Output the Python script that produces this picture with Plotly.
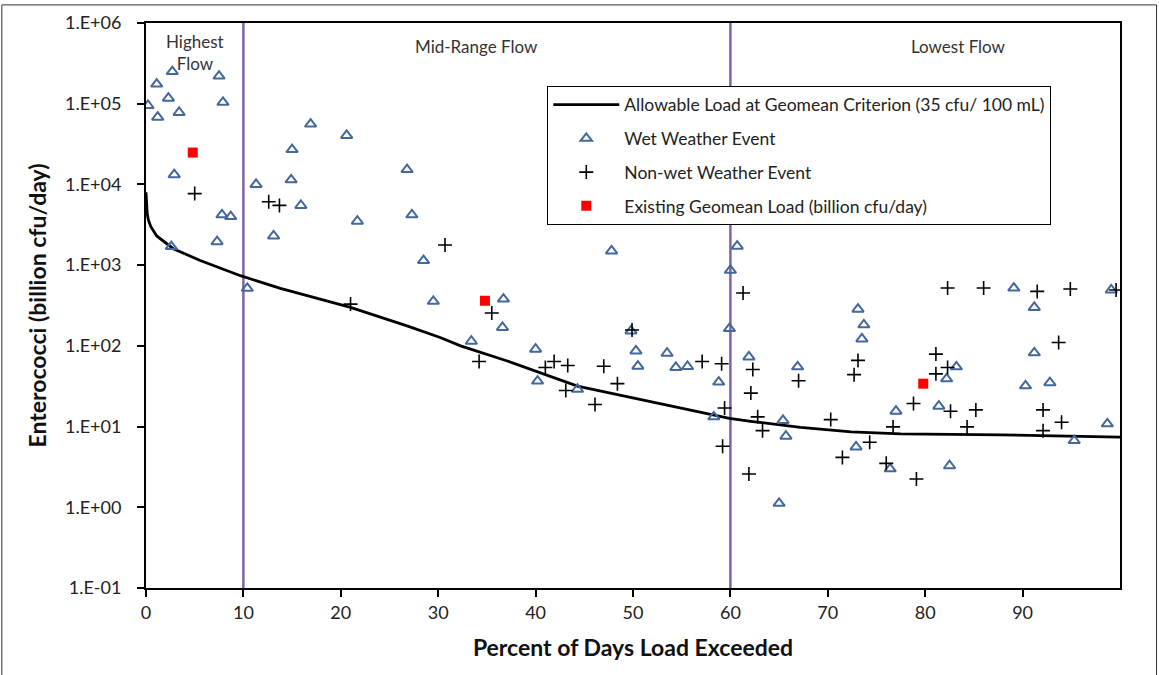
import plotly.graph_objects as go

# ---------------- data ----------------
curve_x = [0, 0.07, 0.13, 0.25, 0.5, 1.1, 2.8, 5.5, 9.7, 13.8, 21.0, 26.8, 30.2, 32.3, 37.1,
           44.3, 50.1, 55.9, 59.9, 62.1, 67.2, 72.4, 77.5, 87.8, 98.0, 100]
curve_y = [8000, 5500, 4300, 3600, 3000, 2300, 1600, 1150, 740, 515, 300, 177, 127, 100, 65,
           31.7, 22.5, 16.1, 12.6, 11.6, 9.8, 8.6, 8.1, 7.9, 7.6, 7.4]

wet_x = [0.2, 1.1, 2.7, 1.2, 2.3, 3.4, 7.5, 7.9, 2.9, 7.8, 8.7, 7.3, 2.6, 10.4, 11.3, 13.1,
         14.9, 15.0, 15.9, 16.9, 20.6, 21.7, 26.8, 27.3, 28.5, 29.5, 33.4, 36.6, 36.7, 40.0,
         40.2, 44.3, 47.8, 49.8, 50.3, 50.5, 53.5, 54.4, 55.6, 58.3, 58.8, 59.9, 60.0, 60.7,
         61.9, 65.0, 65.4, 65.7, 66.9, 72.9, 73.1, 73.5, 73.7, 76.4, 77.0, 81.4, 82.2, 82.5,
         83.2, 89.1, 90.3, 91.2, 91.2, 92.8, 95.3, 98.7, 99.1]
wet_y = [9.5e4, 1.75e5, 2.5e5, 6.8e4, 1.17e5, 7.8e4, 2.2e5, 1.04e5, 1.32e4, 4.2e3, 4.0e3,
         1.95e3, 1.7e3, 516, 1.0e4, 2.3e3, 1.14e4, 2.7e4, 5.5e3, 5.6e4, 4.05e4, 3.5e3, 1.53e4,
         4.2e3, 1.14e3, 356, 114, 169, 380, 91, 36.6, 29, 1.5e3, 153, 86.5, 56, 81, 54, 55.5,
         13.2, 35.6, 164, 863, 1.72e3, 73, 1.12, 11.9, 7.6, 55, 5.6, 285, 122, 182, 3.0, 15.5,
         17.9, 39, 3.27, 55, 520, 32, 299, 82, 35, 6.7, 10.8, 492]

dry_x = [5.0, 12.6, 13.7, 21.0, 30.7, 35.5, 34.2, 41.0, 41.9, 43.3, 43.1, 46.1, 47.0, 48.4,
         49.9, 57.1, 59.1, 59.4, 59.2, 61.3, 62.3, 62.1, 62.8, 63.3, 61.9, 67.0, 70.3, 71.5,
         73.1, 72.7, 74.3, 76.0, 76.7, 78.8, 79.1, 81.1, 81.1, 82.3, 82.3, 82.6, 84.3, 85.2,
         86.0, 91.5, 92.1, 92.1, 93.7, 94.0, 94.9, 99.6]
dry_y = [7.7e3, 6.1e3, 5.5e3, 329, 1.78e3, 255, 64, 54, 64, 57, 28, 18.8, 56, 34, 157, 64,
         60, 17, 5.7, 451, 51, 26, 13.2, 8.9, 2.58, 37, 12.2, 4.15, 66, 44, 6.4, 3.5, 9.9,
         19.3, 2.24, 79, 45, 520, 54, 15.5, 9.9, 16.1, 520, 473, 16.1, 8.9, 110, 11.3, 506, 492]

geo_x = [4.8, 34.8, 79.8]
geo_y = [2.48e4, 362, 34]

zone_bounds = [10, 60]
zone_labels = ["Highest<br>Flow", "Mid-Range Flow", "Lowest Flow"]
zone_label_x = [5, 33.9, 83.4]

y_tickvals = [1e-1, 1e0, 1e1, 1e2, 1e3, 1e4, 1e5, 1e6]
y_ticktext = ["1.E-01", "1.E+00", "1.E+01", "1.E+02", "1.E+03", "1.E+04", "1.E+05", "1.E+06"]
x_tickvals = [0, 10, 20, 30, 40, 50, 60, 70, 80, 90]

FONT = "Lato"

fig = go.Figure()
fig.add_trace(go.Scatter(
    x=curve_x, y=curve_y, mode="lines", line=dict(color="black", width=2.8),
    name="Allowable Load at Geomean Criterion (35 cfu/ 100 mL)", legendgroup="a"))
fig.add_trace(go.Scatter(
    x=wet_x, y=wet_y, mode="markers",
    marker=dict(symbol="triangle-up-open", size=10, color="#44689C", line=dict(width=2, color="#44689C")),
    name="Wet Weather Event", legendgroup="b"))
fig.add_trace(go.Scatter(
    x=dry_x, y=dry_y, mode="markers",
    marker=dict(symbol="cross-thin", size=10, color="black", line=dict(width=1.6, color="black")),
    name="Non-wet Weather Event", legendgroup="c"))
fig.add_trace(go.Scatter(
    x=geo_x, y=geo_y, mode="markers",
    marker=dict(symbol="square", size=10, color="#FF0000", line=dict(width=0)),
    name="Existing Geomean Load (billion cfu/day)", legendgroup="d"))

shapes = []
for b in zone_bounds:
    shapes.append(dict(type="line", xref="x", yref="paper", x0=b, x1=b, y0=0, y1=1,
                       line=dict(color="#8064A2", width=2.5), layer="below"))
# outer frame
shapes.append(dict(type="rect", xref="paper", yref="paper",
                   x0=-0.148, x1=1.0375, y0=-0.2, y1=1.032,
                   line=dict(color="#333333", width=1)))

annotations = []
for lbl, xx in zip(zone_labels, zone_label_x):
    two = "<br>" in lbl
    annotations.append(dict(x=xx, y=0.99 if two else 0.958, xref="x", yref="paper",
                            text=lbl, showarrow=False,
                            yanchor="top" if two else "middle",
                            font=dict(family=FONT, size=17, color="#333333")))

fig.update_layout(
    width=1159, height=675,
    margin=dict(l=146, r=39, t=23, b=87),
    paper_bgcolor="white", plot_bgcolor="white",
    font=dict(family=FONT, color="#222222"),
    showlegend=True,
    legend=dict(x=0.412, y=0.889, xanchor="left", yanchor="top",
                bgcolor="white", bordercolor="black", borderwidth=1,
                font=dict(family=FONT, size=17.5, color="#222222"),
                traceorder="grouped", tracegroupgap=8, itemwidth=66),
    shapes=shapes, annotations=annotations,
    xaxis=dict(range=[0, 100], tickvals=x_tickvals, showgrid=False, zeroline=False,
               showline=True, linecolor="black", linewidth=2, mirror=True,
               ticks="outside", ticklen=7, tickcolor="black", tickwidth=1.5,
               automargin=False,
               tickfont=dict(family=FONT, size=18, color="#222222"),
               title=dict(text="<b>Percent of Days Load Exceeded</b>",
                          font=dict(family=FONT, size=23, color="#111111"), standoff=18)),
    yaxis=dict(type="log", range=[-1, 6], tickvals=y_tickvals, ticktext=y_ticktext,
               showgrid=False, zeroline=False,
               showline=True, linecolor="black", linewidth=2, mirror=True,
               ticks="outside", ticklen=7, tickcolor="black", tickwidth=1.5,
               ticklabelstandoff=12, automargin=False,
               tickfont=dict(family=FONT, size=18, color="#222222"),
               title=dict(text="<b>Enterococci (billion cfu/day)</b>",
                          font=dict(family=FONT, size=23, color="#111111"), standoff=12)),
)

fig.write_html("out.html", config={"displayModeBar": False},
               post_script="document.body.style.margin='0';")
